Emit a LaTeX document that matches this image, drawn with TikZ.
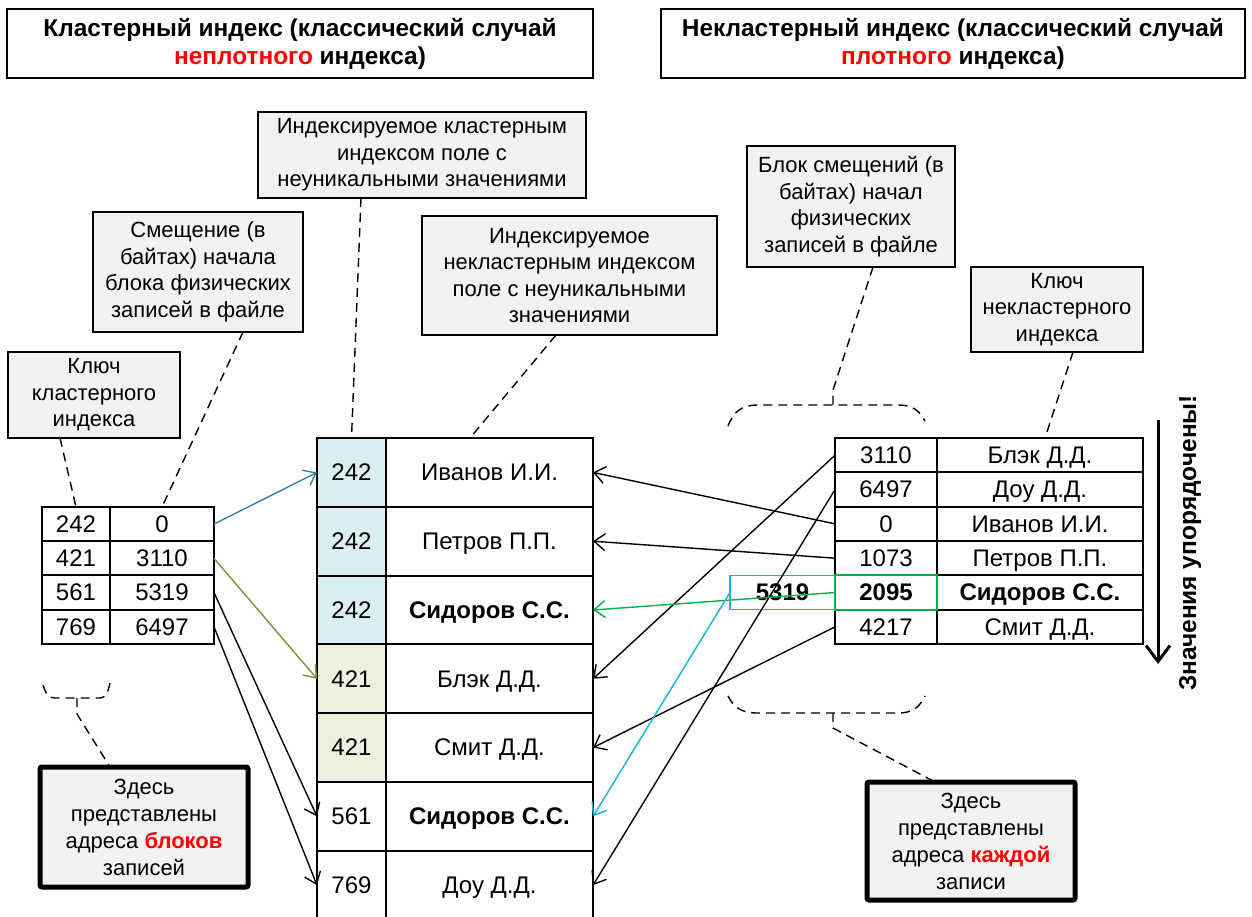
\documentclass[tikz,border=0pt]{standalone}
\usepackage{fontspec}
\setmainfont{Liberation Sans}
\usetikzlibrary{arrows.meta,calc}
\definecolor{boxgray}{HTML}{F2F2F2}
\definecolor{cellblue}{HTML}{DAEEF3}
\definecolor{cellgreen}{HTML}{EBF1DE}
\definecolor{arrteal}{HTML}{31849B}
\definecolor{arrolive}{HTML}{77933C}
\definecolor{arrgreen}{HTML}{00B050}
\definecolor{arrcyan}{HTML}{17B4CF}
\definecolor{hired}{HTML}{FF0000}
\newcommand\callfont{\fontsize{22}{26.5}\selectfont}
\newcommand\tabfont{\fontsize{24}{28}\selectfont}
\newcommand\headfont{\fontsize{24.4}{28}\selectfont\bfseries}
\tikzset{
  callout/.style={draw, fill=boxgray, line width=1.5pt, align=center, font=\callfont, inner sep=0pt, outer sep=0pt},
  notebox/.style={draw, fill=boxgray, line width=5pt, rounded corners=2pt, align=center, font=\fontsize{22}{27}\selectfont, inner sep=0pt, outer sep=0pt},
  headbox/.style={draw, fill=white, line width=2pt, align=center, font=\headfont, inner sep=0pt, outer sep=0pt},
  cell/.style={draw, line width=2pt, inner sep=0pt, outer sep=0pt, font=\tabfont, text height=21pt, text depth=4.5pt},
  leader/.style={line width=1.4pt, dash pattern=on 9pt off 6pt},
  arr/.style={line width=1.4pt, -{Straight Barb[length=11pt,width=17pt]}},
}
\begin{document}
\begin{tikzpicture}[x=1pt,y=-1pt]
\useasboundingbox (0,0) rectangle (1252,917);
\clip (0,0) rectangle (1252,917);
\fill[white] (0,0) rectangle (1252,917);

% headers
\node[headbox, minimum width=586pt, minimum height=69pt] (hl) at (300,43.5)
  {Кластерный индекс (классический случай\\{\color{hired}неплотного} индекса)};
\node[headbox, minimum width=584pt, minimum height=69pt] (hr) at (953,43.5)
  {Некластерный индекс (классический случай\\{\color{hired}плотного} индекса)};

% callouts
\node[callout, minimum width=328pt, minimum height=86pt] (ctop) at (422,155)
  {Индексируемое кластерным\\индексом поле с\\неуникальными значениями};
\node[callout, minimum width=210pt, minimum height=120pt] (coff) at (198,272)
  {Смещение (в\\байтах) начала\\блока физических\\записей в файле};
\node[callout, minimum width=172pt, minimum height=86pt] (ckey) at (94,395)
  {Ключ\\кластерного\\индекса};
\node[callout, minimum width=295pt, minimum height=119pt] (cnk) at (569.5,275.5)
  {Индексируемое\\некластерным индексом\\поле с неуникальными\\значениями};
\node[callout, minimum width=208pt, minimum height=121pt] (cblk) at (851,206.5)
  {Блок смещений (в\\байтах) начал\\физических\\записей в файле};
\node[callout, minimum width=172pt, minimum height=85pt] (cnkk) at (1057,309.5)
  {Ключ\\некластерного\\индекса};

% notes
\node[notebox, minimum width=208pt, minimum height=120pt] (bl) at (144,827)
  {Здесь\\представлены\\адреса {\color{hired}\bfseries блоков}\\записей};
\node[notebox, minimum width=208pt, minimum height=118pt] (br) at (971,841)
  {Здесь\\представлены\\адреса {\color{hired}\bfseries каждой}\\записи};

% left table
\foreach \k/\v [count=\i] in {242/0,421/3110,561/5319,769/6497} {
  \node[cell, minimum width=68pt, minimum height=34.25pt] (Lk\i) at (76,{524.1+(\i-1)*34.25}) {\k};
  \node[cell, minimum width=104pt, minimum height=34.25pt] (Lv\i) at (162,{524.1+(\i-1)*34.25}) {\v};
}

% middle table
\foreach \k/\n/\f [count=\i] in {242/{Иванов И.И.}/cellblue, 242/{Петров П.П.}/cellblue, 242/{\bfseries Сидоров С.С.}/cellblue, 421/{Блэк Д.Д.}/cellgreen, 421/{Смит Д.Д.}/cellgreen, 561/{\bfseries Сидоров С.С.}/white, 769/{Доу Д.Д.}/white} {
  \node[cell, fill=\f, minimum width=69pt, minimum height=68.8pt] (Mk\i) at (351.5,{472.4+(\i-1)*68.8}) {\k};
  \node[cell, fill=white, minimum width=207pt, minimum height=68.8pt] (Mn\i) at (489.5,{472.4+(\i-1)*68.8}) {\n};
}

% right table
\foreach \o/\n [count=\i] in {3110/{Блэк Д.Д.}, 6497/{Доу Д.Д.}, 0/{Иванов И.И.}, 1073/{Петров П.П.}, {\bfseries 2095}/{\bfseries Сидоров С.С.}, 4217/{Смит Д.Д.}} {
  \node[cell, minimum width=102pt, minimum height=34.33pt] (Ro\i) at (886,{455.2+(\i-1)*34.33}) {\o};
  \node[cell, minimum width=206pt, minimum height=34.33pt] (Rn\i) at (1040,{455.2+(\i-1)*34.33}) {\n};
}
\node[draw=arrcyan, line width=1.6pt, inner sep=0pt, outer sep=0pt, minimum width=105pt, minimum height=34.33pt, font=\tabfont\bfseries, text height=21pt, text depth=4.5pt] (c5319) at (782.5,{455.2+4*34.33}) {5319};
\draw[arrgreen, line width=1.8pt] (Ro5.south west) rectangle (Ro5.north east);

% ordering arrow
\coordinate (ordtop) at (1158,420);
\coordinate (ordbot) at (1158,664);
\draw[line width=3pt, -{Straight Barb[length=16pt,width=24pt]}] (ordtop) -- (ordbot);
\node[rotate=90, font=\fontsize{24.5}{28}\selectfont\bfseries, inner sep=0pt] (ordtxt) at (1190,543) {Значения упорядочены!};

% leaders
\draw[leader] ([xshift=-34pt]ckey.south) -- (Lk1.north);
\draw[leader] ([xshift=45pt]coff.south) -- (Lv1.north);
\draw[leader] ([xshift=-61pt]ctop.south) -- (Mk1.north);
\draw[leader] ([xshift=-13.5pt]cnk.south) -- ([xshift=-19.5pt]Mn1.north);
\draw[leader] ([xshift=16pt]cnkk.south) -- ([xshift=5pt]Rn1.north);
\coordinate (bt1) at (833,390);
\coordinate (bt2) at (833,405);
\draw[leader] ([xshift=22pt]cblk.south) -- (bt1) -- (bt2);
\draw[leader] (728,426) .. controls (734,411) and (742,405) .. (758,405) -- (898,405) .. controls (912,405) and (919,410) .. (925,421);
\draw[leader] (728,696) .. controls (734,708) and (742,713) .. (758,713) -- (898,713) .. controls (912,713) and (919,708) .. (925,696);
\coordinate (bb1) at (833,713);
\coordinate (bb2) at (833,728);
\draw[leader] (bb1) -- (bb2) -- ([xshift=-36pt]br.north);
\draw[leader] (43,685) .. controls (46,694) and (48,698) .. (55,698) -- (100,698) .. controls (106,698) and (108,692) .. (110,683);
\coordinate (lb1) at (77,698);
\coordinate (lb2) at (77,714);
\draw[leader] (lb1) -- (lb2) -- ([xshift=-34pt]bl.north);

% left arrows
\draw[arr, arrteal] (Lv1.east) -- (Mk1.west);
\draw[arr, arrolive] (Lv2.east) -- (Mk4.west);
\draw[arr] (Lv3.east) -- (Mk6.west);
\draw[arr] (Lv4.east) -- (Mk7.west);

% right arrows
\draw[arr] (Ro1.west) -- (Mn4.east);
\draw[arr] (Ro2.west) -- (Mn7.east);
\draw[arr] (Ro3.west) -- (Mn1.east);
\draw[arr] (Ro4.west) -- (Mn2.east);
\draw[arr, arrgreen] (Ro5.west) -- (Mn3.east);
\draw[arr] (Ro6.west) -- (Mn5.east);
\draw[arr, arrcyan] (c5319.west) -- (Mn6.east);
\end{tikzpicture}
\end{document}
